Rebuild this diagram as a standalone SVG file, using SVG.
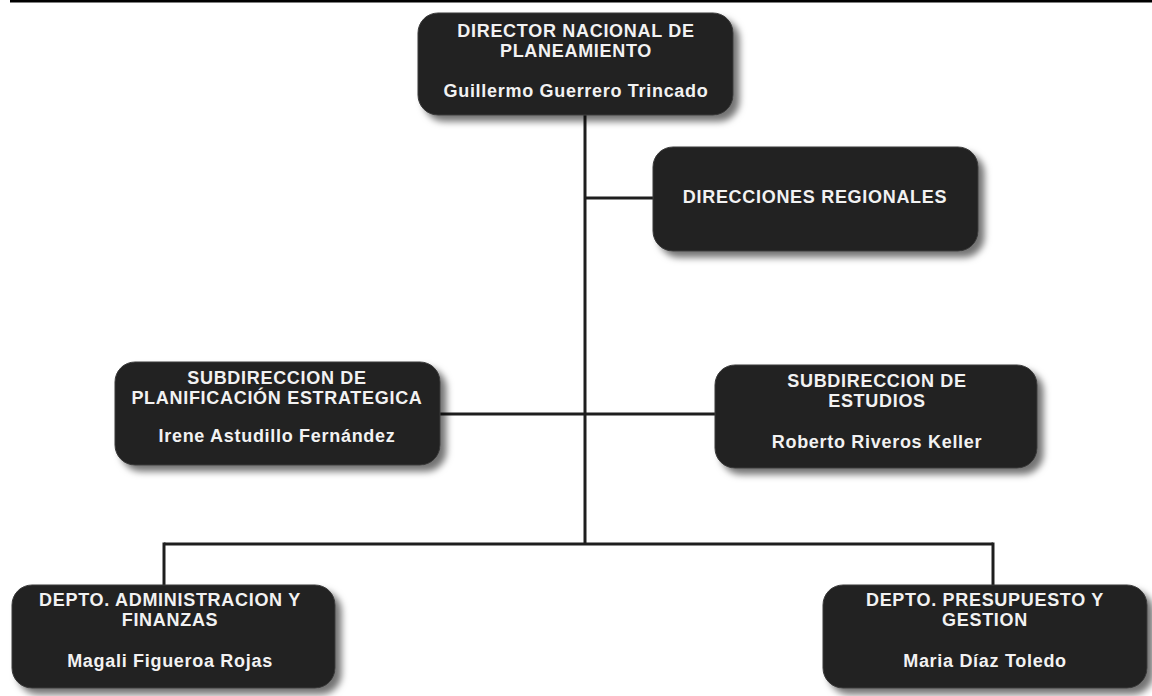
<svg xmlns="http://www.w3.org/2000/svg" width="1152" height="696" viewBox="0 0 1152 696">
<style>
.box{fill:#242424;stroke:#3a3a3a;stroke-width:1;filter:url(#sh)}
.t{font-family:"Liberation Sans",Arial,sans-serif;font-weight:bold;font-size:18px;letter-spacing:0.7px;fill:#f2f2f2;text-anchor:middle}
.c{stroke:#1e1e1e;stroke-width:3;fill:none}
</style>
<defs>
<filter id="sh" x="-10%" y="-10%" width="125%" height="135%">
<feDropShadow dx="6" dy="6" stdDeviation="3.5" flood-color="#000" flood-opacity="0.55"/>
</filter>
</defs>
<rect width="1152" height="696" fill="#fff"/>
<line x1="10" y1="1" x2="1152" y2="1" stroke="#000" stroke-width="3"/>
<g id="connectors">
<line class="c" x1="585" y1="112" x2="585" y2="544"/>
<line class="c" x1="585" y1="198" x2="655" y2="198"/>
<line class="c" x1="438" y1="414" x2="717" y2="414"/>
<line class="c" x1="164" y1="544" x2="993" y2="544"/>
<line class="c" x1="164" y1="542.5" x2="164" y2="587"/>
<line class="c" x1="993" y1="542.5" x2="993" y2="587"/>
</g>
<g id="director">
<rect class="box" x="418" y="13" width="315" height="102" rx="20"/>
<text class="t" x="576" y="37">DIRECTOR NACIONAL DE</text>
<text class="t" x="576" y="57">PLANEAMIENTO</text>
<text class="t" x="576" y="97">Guillermo Guerrero Trincado</text>
</g>
<g id="direcciones">
<rect class="box" x="653" y="147" width="325" height="104" rx="20"/>
<text class="t" x="815" y="203">DIRECCIONES REGIONALES</text>
</g>
<g id="planificacion">
<rect class="box" x="115" y="362" width="325" height="103" rx="20"/>
<text class="t" x="277" y="384">SUBDIRECCION DE</text>
<text class="t" x="277" y="404">PLANIFICACIÓN ESTRATEGICA</text>
<text class="t" x="277" y="442">Irene Astudillo Fernández</text>
</g>
<g id="estudios">
<rect class="box" x="715" y="365" width="322" height="103" rx="20"/>
<text class="t" x="877" y="387">SUBDIRECCION DE</text>
<text class="t" x="877" y="407">ESTUDIOS</text>
<text class="t" x="877" y="448">Roberto Riveros Keller</text>
</g>
<g id="administracion">
<rect class="box" x="12" y="585" width="323" height="103" rx="20"/>
<text class="t" x="170" y="606">DEPTO. ADMINISTRACION Y</text>
<text class="t" x="170" y="626">FINANZAS</text>
<text class="t" x="170" y="667">Magali Figueroa Rojas</text>
</g>
<g id="presupuesto">
<rect class="box" x="823" y="585" width="324" height="103" rx="20"/>
<text class="t" x="985" y="606">DEPTO. PRESUPUESTO Y</text>
<text class="t" x="985" y="626">GESTION</text>
<text class="t" x="985" y="667">Maria Díaz Toledo</text>
</g>
</svg>
